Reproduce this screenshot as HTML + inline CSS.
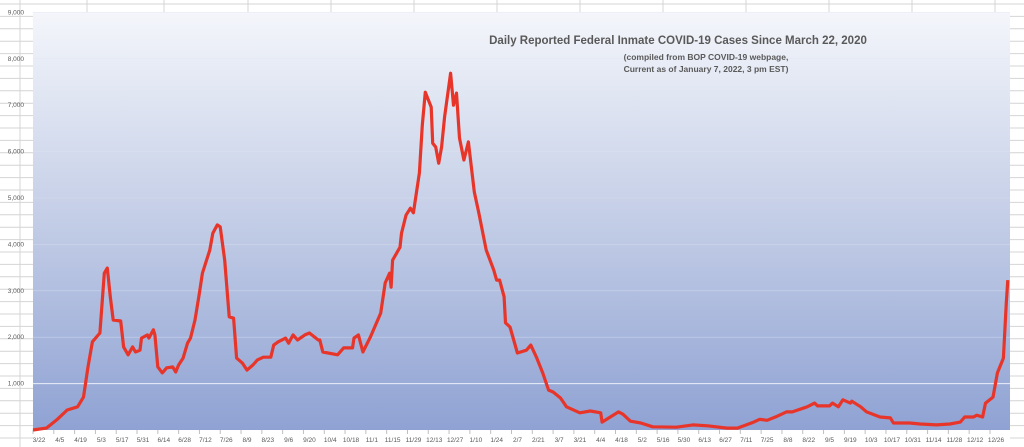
<!DOCTYPE html>
<html><head><meta charset="utf-8"><style>
html,body{margin:0;padding:0;background:#fff;}
svg{display:block;font-family:"Liberation Sans",sans-serif;}
</style></head><body>
<svg width="1024" height="447" viewBox="0 0 1024 447" xmlns="http://www.w3.org/2000/svg">
<defs>
<linearGradient id="bg" x1="0" y1="0" x2="0" y2="1">
<stop offset="0" stop-color="#f4f6fb"/><stop offset="0.5" stop-color="#c3cde6"/><stop offset="1" stop-color="#8fa2d3"/>
</linearGradient>
</defs>
<g id="sheet-grid"></g>
<rect x="33" y="12" width="977" height="418" fill="url(#bg)"/>
<g id="gridlines"></g>
<g id="yaxis"></g>
<g id="xaxis"></g>
<path id="line" fill="none" stroke="#e8352a" stroke-width="3.2" stroke-linejoin="round"/>
<text x="678" y="44" text-anchor="middle" font-size="11.5" font-weight="bold" fill="#595959">Daily Reported Federal Inmate COVID-19 Cases Since March 22, 2020</text>
<text x="706" y="60" text-anchor="middle" font-size="8.5" font-weight="bold" fill="#595959">(compiled from BOP COVID-19 webpage,</text>
<text x="706" y="72" text-anchor="middle" font-size="8.5" font-weight="bold" fill="#595959">Current as of January 7, 2022, 3 pm EST)</text>
</svg>
<script>
const days=[0,9,16,23,30,34,37,40,45,48,50,52,54,59,61,64,67,69,72,73,77,78,81,82,84,87,90,94,96,98,101,104,106,109,112,114,119,121,124,126,129,132,135,137,141,144,148,151,155,160,162,165,170,172,175,178,183,186,192,193,195,205,209,215,216,219,222,227,234,237,240,241,242,247,248,251,254,256,260,262,264,268,269,271,273,275,277,281,283,285,287,290,293,297,300,305,310,312,314,317,318,321,326,332,335,339,343,347,350,355,359,368,375,382,383,394,397,402,409,417,433,444,454,467,474,485,489,494,501,507,511,521,526,528,536,538,542,545,550,551,557,561,570,577,579,590,597,608,617,624,627,633,635,639,641,646,649,653,655,656];
const cases=[0,40,220,430,500,710,1360,1900,2090,3380,3490,2870,2370,2350,1790,1620,1790,1680,1720,1980,2050,1980,2160,2050,1360,1230,1340,1360,1250,1400,1550,1870,1980,2370,2950,3380,3880,4240,4420,4380,3660,2440,2410,1550,1440,1290,1400,1510,1570,1570,1830,1900,1980,1870,2050,1940,2050,2090,1940,1940,1680,1620,1770,1770,1980,2050,1680,2000,2520,3170,3380,3080,3660,3940,4240,4630,4780,4680,5540,6570,7280,6960,6180,6100,5750,6100,6750,7690,7000,7260,6290,5820,6210,5130,4680,3880,3450,3230,3230,2870,2310,2220,1660,1720,1830,1550,1230,860,820,690,500,370,410,370,170,390,340,190,150,70,60,110,90,40,40,170,230,210,300,390,390,500,580,520,520,580,500,650,580,620,500,390,280,260,150,150,130,110,130,170,280,280,320,280,580,710,1230,1550,2740,3230];
const yTicks=[1000,2000,3000,4000,5000,6000,7000,8000,9000];
const xLabels=["3/22","4/5","4/19","5/3","5/17","5/31","6/14","6/28","7/12","7/26","8/9","8/23","9/6","9/20","10/4","10/18","11/1","11/15","11/29","12/13","12/27","1/10","1/24","2/7","2/21","3/7","3/21","4/4","4/18","5/2","5/16","5/30","6/13","6/27","7/11","7/25","8/8","8/22","9/5","9/19","10/3","10/17","10/31","11/14","11/28","12/12","12/26"];
const NS="http://www.w3.org/2000/svg";
const X=d=>33+d*1.486, Y=v=>430-v*0.0464;
function mk(tag,attrs,parent){const e=document.createElementNS(NS,tag);for(const k in attrs)e.setAttribute(k,attrs[k]);parent.appendChild(e);return e;}
// spreadsheet grid
const sg=document.getElementById('sheet-grid');
for(let y=4;y<447;y+=12.4){const l=mk('line',{x1:0,x2:1024,y1:y,y2:y,stroke:'#d4d4d4','stroke-width':1},sg);}
[20,87,164,248,331,414,497,580,663,746,829,912,995].forEach(x=>{const l=mk('line',{x1:x,x2:x,y1:0,y2:447,stroke:'#d4d4d4','stroke-width':1},sg);});
// gridlines & y ticks
const gl=document.getElementById('gridlines'),ya=document.getElementById('yaxis');
yTicks.forEach(v=>{const g=mk('line',{x1:33,x2:1010,y1:Y(v),y2:Y(v),stroke:v===1000?'#ffffff':'#dfe4f1','stroke-width':v===1000?1:0.6,opacity:v===1000?0.8:0.6},gl);
const t=mk('text',{x:24,y:Y(v)+2,'text-anchor':'end','font-size':6.5,fill:'#595959'},ya);t.textContent=v.toLocaleString('en-US');});
// x labels
const xa=document.getElementById('xaxis');
mk('rect',{x:33,y:430,width:977,height:17,fill:'#ffffff'},xa);
xLabels.forEach((s,i)=>{const x=X(i*14);const tk=mk('line',{x1:x,x2:x,y1:430,y2:434,stroke:'#bfbfbf'},xa);
const t=mk('text',{x:x+6,y:442,'text-anchor':'middle','font-size':6.5,fill:'#595959'},xa);t.textContent=s;});
// line
document.getElementById('line').setAttribute('d',days.map((d,i)=>(i?'L':'M')+X(d).toFixed(1)+','+Y(cases[i]).toFixed(1)).join(''));
</script>
</body></html>
